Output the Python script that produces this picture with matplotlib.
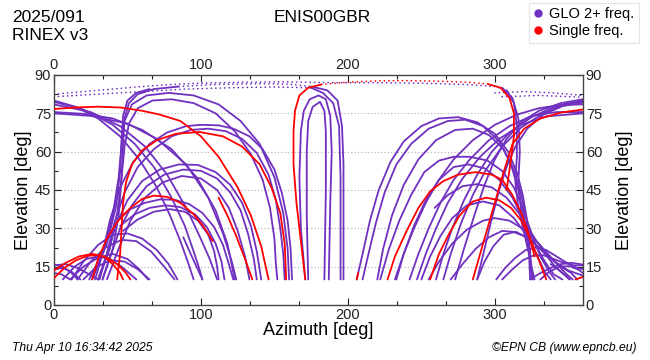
import matplotlib
matplotlib.use("Agg")
import matplotlib.pyplot as plt
from matplotlib.ticker import MultipleLocator
from matplotlib.lines import Line2D

plt.rcParams['font.family'] = ['Liberation Sans', 'DejaVu Sans']

GLO_COLOR = '#7030c0'
SGL_COLOR = '#ff0000'

# satellite tracks, each a list of (azimuth, elevation)
# GLONASS 2+ frequencies, solid parts
glo_tracks = [
    # left side, coming down from the north
    [(0, 80), (15, 77.5), (30, 73), (45, 66), (58, 57), (70, 46), (79, 35), (86, 25), (91, 17), (95, 10)],
    [(0, 79.5), (20, 76.5), (40, 70.5), (55, 63), (68, 54), (80, 42), (89, 31), (95, 21), (99, 14), (101, 10)],
    [(0, 78.5), (25, 75.5), (45, 70), (62, 62), (77, 51), (90, 38), (99, 27), (106, 18), (111, 10)],
    [(0, 75.5), (20, 74.8), (40, 73), (60, 68.5), (80, 61), (97, 50), (110, 37), (118, 24), (123, 10)],
    [(0, 75), (25, 74), (50, 71), (70, 65), (90, 55), (105, 42), (115, 28), (121, 17), (124, 10)],
    # steep risers near az 45
    [(33, 10), (40, 22), (44, 35), (46, 50), (47, 63), (48, 73), (51, 79), (57, 82.5), (68, 84.5), (85, 85.5)],
    [(26, 10), (36, 24), (42, 38), (45, 52), (46, 65), (47, 74), (50, 80), (56, 83), (65, 84.5)],
    [(30, 10), (38, 22), (43, 36), (46, 50), (48, 62), (51, 71), (57, 77), (67, 80), (80, 80.5), (95, 79),
     (110, 75), (123, 68), (134, 59), (142, 49), (147, 38), (150, 26), (151, 16), (152, 10)],
    [(24, 10), (34, 22), (40, 35), (44, 50), (46, 63), (48, 72), (53, 78.5), (63, 82), (78, 83), (95, 82),
     (112, 78.5), (127, 72), (140, 63), (150, 50), (156, 36), (159, 22), (160, 10)],
    # arcs peaking near 70
    [(28, 10), (33, 20), (38, 33), (45, 46), (54, 56), (65, 63), (77, 67.5), (90, 70), (100, 70.5), (112, 70.3),
     (122, 69), (133, 66), (142, 61), (150, 53), (155, 44), (159, 33), (161, 22), (162, 10)],
    [(31, 10), (36, 20), (41, 32), (48, 44), (57, 54), (68, 61), (80, 66), (93, 68.5), (105, 69), (117, 68),
     (128, 65), (138, 59.5), (146, 51), (151, 41), (154, 30), (156, 20), (157, 10)],
    # arcs peaking near 55
    [(30, 10), (36, 20), (42, 31), (50, 41), (60, 48.5), (72, 53), (85, 55), (98, 54.8), (110, 52), (120, 47),
     (128, 40), (134, 31), (138, 21), (141, 10)],
    [(33, 10), (39, 20), (45, 30), (53, 39), (63, 46.5), (75, 51), (88, 53), (100, 52.5), (111, 49.5), (120, 44),
     (127, 37), (132, 28), (136, 18), (138, 10)],
    [(36, 10), (44, 22), (52, 33), (62, 42), (74, 48), (87, 50.5), (100, 49.5), (111, 45), (119, 38), (125, 29),
     (130, 19), (133, 10)],
    # arcs peaking near 40
    [(44, 34), (52, 37.5), (62, 40), (72, 41.3), (82, 41.2), (92, 39.5), (101, 36), (109, 30.5), (115, 23.5),
     (119, 16), (122, 10)],
    [(45, 31), (55, 35.5), (65, 38), (76, 39), (86, 38.3), (96, 35.5), (104, 30.5), (110, 24), (114, 17), (116, 10)],
    [(47, 29), (57, 33.5), (68, 36.5), (79, 37.5), (89, 36.5), (98, 33), (105, 27.5), (109, 21), (111, 15), (112, 10)],
    [(88, 26.5), (93, 20), (97, 15), (101, 10)],
    # low arcs bottom left
    [(12, 10), (20, 17), (30, 23.5), (40, 27.5), (50, 28), (60, 26), (70, 21.5), (78, 16), (84, 10)],
    [(16, 10), (25, 17), (35, 22.5), (46, 25.5), (56, 25), (66, 21), (75, 15), (82, 10)],
    [(11, 10), (20, 15), (30, 18.5), (40, 20), (50, 18), (58, 14), (64, 10)],
    [(20, 10), (28, 14.5), (38, 17.5), (48, 17), (57, 14), (65, 10)],
    [(6, 10), (14, 15), (22, 18), (30, 19), (38, 18), (46, 15), (52, 12), (56, 10)],
    [(0, 15.5), (8, 16), (16, 14.5), (24, 12), (30, 10)],
    [(0, 14), (6, 14.5), (12, 13), (18, 10)],
    [(0, 12.5), (5, 12), (11, 10)],
    [(0, 15.8), (6, 15), (12, 12.5), (16, 10)],
    # loops around the zenith, south side
    [(171, 10), (168, 30), (167, 50), (168, 68), (170, 76), (174, 80.5), (180, 82), (185, 80.5), (188, 74),
     (189, 60), (188, 40), (187, 10)],
    [(173, 10), (172, 35), (172, 60), (173, 72), (176, 77.5), (181, 79.5), (184, 76), (185, 68), (185, 45), (184, 10)],
    [(175, 85.5), (186, 84), (193, 80), (196, 70), (197, 55), (197, 35), (197, 10)],
    [(175, 85), (183, 83), (190, 79), (194, 70), (195, 50), (195, 10)],
    # west side risers
    [(206, 10), (210, 20), (215, 33), (221, 45), (229, 56), (238, 64), (250, 70), (262, 73), (275, 73.5),
     (288, 71.5), (300, 67), (309, 60), (315, 52), (319, 43), (322, 33), (323, 24), (324, 10)],
    [(210, 10), (214, 20), (219, 32), (225, 44), (233, 55), (243, 63), (255, 69), (268, 72), (280, 72.5),
     (292, 70), (303, 64), (311, 55), (316, 45), (320, 34), (322, 24), (324, 19)],
    [(220, 10), (224, 22), (230, 35), (238, 47), (248, 57), (260, 64.5), (273, 68.5), (285, 69), (296, 66.5),
     (306, 61), (313, 53), (318, 43), (322, 32), (324, 21), (325, 10)],
    [(232, 10), (238, 20), (245, 30), (253, 40), (262, 49), (272, 57), (285, 64.5), (300, 70.5), (315, 74.5),
     (330, 77), (345, 78.3), (360, 78.5)],
    [(242, 10), (248, 20), (255, 30), (263, 40), (272, 49), (283, 57), (296, 64.5), (310, 70), (325, 74),
     (342, 75.5), (360, 75.5)],
    [(247, 10), (253, 20), (260, 30), (268, 40), (278, 49.5), (290, 58), (303, 65), (318, 70.5), (335, 73.8),
     (360, 75)],
    [(260, 10), (265, 20), (271, 30), (279, 41), (288, 51), (298, 60), (310, 67.5), (325, 73.5), (340, 77.5),
     (360, 80)],
    [(265, 10), (270, 20), (277, 32), (285, 43), (294, 53), (305, 62), (318, 69.5), (333, 75), (348, 78.8),
     (360, 79.5)],
    [(273, 10), (279, 22), (286, 35), (293, 47), (300, 57), (308, 65), (318, 71.5), (330, 76), (345, 79),
     (360, 80.5)],
    [(288, 10), (293, 22), (298, 34), (303, 45), (308, 54), (314, 62), (322, 69), (333, 74.5), (346, 77.8),
     (360, 79.2)],
    # steep descents in the north-west
    [(308, 84), (313, 79), (315, 70), (315, 58), (314, 48), (316, 38), (320, 28), (324, 18), (326, 10)],
    [(305, 85), (312, 81), (316, 73), (317, 60), (316, 48), (318, 36), (322, 25), (325, 15), (327, 10)],
    # mid and low arcs in the west / north-west
    [(222, 10), (228, 22), (235, 33), (243, 43), (252, 52), (262, 56.5), (272, 58), (283, 58), (295, 56.5),
     (305, 52.5), (313, 46), (319, 38), (325, 28), (331, 19), (337, 13), (341, 10)],
    [(233, 10), (238, 20), (245, 31), (253, 41), (262, 49), (272, 54), (282, 55), (293, 53.5), (303, 49),
     (312, 42), (320, 33), (327, 24), (334, 17), (340, 12), (346, 10)],
    [(259, 38), (268, 43), (278, 46.5), (288, 47.3), (298, 46), (308, 42), (317, 35.5), (325, 28), (333, 21),
     (341, 15), (347, 12), (351, 10)],
    [(250, 10), (256, 19), (263, 27), (271, 34), (281, 39), (292, 40.5), (303, 39), (313, 34), (322, 27),
     (329, 19), (334, 13), (338, 10)],
    [(255, 10), (262, 17), (271, 24), (281, 29.5), (292, 33), (300, 34), (310, 33), (320, 29.5), (330, 24),
     (340, 17.5), (348, 12.5), (353, 10)],
    [(270, 10), (278, 16), (287, 22), (296, 26.5), (305, 29), (315, 28.5), (324, 25.5), (333, 21), (342, 16.5),
     (350, 13.5), (360, 11.5)],
    [(288, 10), (293, 17), (299, 23), (306, 27.5), (313, 28.5), (320, 27), (328, 23.5), (336, 19), (345, 15),
     (352, 12.5), (356, 10)],
    [(301, 10), (307, 14.5), (314, 18.5), (321, 21.5), (328, 22.5), (335, 21.5), (342, 19), (349, 16.5),
     (356, 14.5), (360, 14)],
    [(305, 10), (312, 14), (319, 17.5), (326, 19.3), (333, 19.5), (340, 18), (347, 16.5), (354, 15.5), (360, 15.5)],
    [(324, 10), (331, 12.5), (338, 14.5), (345, 16), (352, 16.5), (358, 16), (360, 15.8)],
    [(331, 10), (337, 13), (344, 15), (351, 15.2), (357, 13.8), (360, 12.5)],
    [(338, 16), (344, 13.5), (349, 11), (351, 10)],
]

# GLONASS near-zenith parts (sparse samples, drawn dotted)
glo_zenith = [
    [(0, 82.5), (20, 83.5), (40, 84.5), (60, 85.5), (80, 86.3), (100, 86.8), (130, 87.2), (160, 87.3),
     (190, 87), (220, 87), (250, 86.8), (280, 86.3), (300, 85.5), (308, 84)],
    [(0, 81.5), (30, 82.5), (60, 83.5), (90, 84.5), (120, 85), (150, 85.3), (175, 85)],
    [(85, 85.5), (110, 86.3), (140, 86.6), (160, 86.4), (175, 85.5)],
    [(300, 83), (320, 83.5), (340, 83), (360, 82)],
    [(305, 81.5), (330, 82), (360, 81.3)],
]

# single frequency tracks, solid parts
sgl_tracks = [
    [(0, 76.7), (15, 77.3), (30, 77.6), (45, 77.3), (60, 76), (72, 74.5), (86, 72), (100, 66), (112, 58),
     (125, 46), (134, 35), (141, 23), (146, 10)],
    [(285, 10), (290, 20), (295, 30), (300, 40), (306, 52), (312, 63), (320, 69), (331, 73), (345, 75.3),
     (360, 76.5)],
    [(43, 10), (45, 20), (46, 30), (47, 40), (49, 48), (53, 55), (60, 60.5), (70, 64.5), (83, 67), (99, 67.7),
     (115, 66), (128, 62), (140, 55), (148, 46), (154, 36), (157, 24), (158, 10)],
    [(26, 10), (30, 18), (36, 26), (43, 32.5), (52, 38), (60, 41.5), (68, 42.8), (77, 42.3), (86, 40),
     (95, 35.5), (102, 30.5), (108, 25)],
    [(112, 42), (118, 35), (124, 27), (130, 18), (135, 10)],
    [(0, 10.5), (7, 14.5), (15, 17.5), (23, 19.3), (30, 19.5), (37, 18.3), (44, 15.5), (49, 12.5), (52, 10)],
    [(0, 13.5), (8, 16.5), (17, 19), (26, 20), (34, 19), (40, 16), (45, 12.5), (47, 10)],
    [(171, 10), (168, 25), (165, 40), (163, 55), (163, 68), (164, 76), (167, 82), (173, 85), (182, 86.3)],
    [(295, 86.5), (304, 85), (310, 81), (313, 75), (313, 66), (311, 57), (309, 49), (308, 45)],
    [(227, 10), (232, 19), (240, 29), (248, 38), (256, 44.5), (265, 48.5), (275, 51), (287, 52), (298, 51),
     (305, 49), (312, 43), (318, 36), (323, 28), (327, 19)],
    [(256, 10), (262, 20), (269, 28), (276, 35), (285, 40.5), (294, 42), (303, 41), (311, 38), (318, 33),
     (324, 26), (329, 19), (333, 13), (335, 10)],
    [(206, 10), (207, 12.5)],
    [(355, 10), (360, 11)],
]

sgl_zenith = [
    [(182, 86.3), (200, 87.2), (220, 87.7), (240, 87.8), (260, 87.6), (280, 87.2), (295, 86.5)],
]

x_ticks = [0, 100, 200, 300]
y_ticks = [0, 15, 30, 45, 60, 75, 90]

fig = plt.figure(figsize=(6.5, 3.6), dpi=100)
ax = fig.add_axes([54 / 650, 55 / 360, 529 / 650, 230 / 360])

for trk in glo_tracks:
    az, el = zip(*trk)
    ax.plot(az, el, color=GLO_COLOR, lw=1.3, solid_capstyle='round', solid_joinstyle='round', zorder=2)
for trk in glo_zenith:
    az, el = zip(*trk)
    ax.plot(az, el, color=GLO_COLOR, lw=1.2, linestyle=(0, (0.1, 2.6)),
            dash_capstyle='round', zorder=2)
for trk in sgl_tracks:
    az, el = zip(*trk)
    ax.plot(az, el, color=SGL_COLOR, lw=1.3, solid_capstyle='round', solid_joinstyle='round', zorder=3)
for trk in sgl_zenith:
    az, el = zip(*trk)
    ax.plot(az, el, color=SGL_COLOR, lw=1.2, linestyle=(0, (0.1, 2.6)),
            dash_capstyle='round', zorder=3)

ax.set_xlim(0, 360)
ax.set_ylim(0, 90)
ax.set_xticks(x_ticks)
ax.set_yticks(y_ticks)
ax.xaxis.set_minor_locator(MultipleLocator(100 / 3))
ax.yaxis.set_minor_locator(MultipleLocator(7.5))
for y in y_ticks[1:-1]:
    ax.axhline(y, color='#b0b0b0', lw=0.8, linestyle=(0, (1, 2)), zorder=1)

ax.tick_params(which='both', direction='in', top=True, right=True,
               labeltop=True, labelright=True, labelsize=10.5, colors='#222222', pad=2)
ax.tick_params(which='major', length=5, width=0.8)
ax.tick_params(which='minor', length=3, width=0.8)
for sp in ax.spines.values():
    sp.set_color('#444444')
    sp.set_linewidth(1.0)

ax.set_xlabel('Azimuth [deg]', fontsize=13, labelpad=0)
ax.set_ylabel('Elevation [deg]', fontsize=13, labelpad=2)
ax.text(1.079, 0.5, 'Elevation [deg]', transform=ax.transAxes, rotation=90,
        ha='center', va='center', fontsize=13)

fig.text(12 / 650, 1 - 18 / 360, '2025/091', fontsize=12.5, ha='left', va='center')
fig.text(12 / 650, 1 - 35 / 360, 'RINEX v3', fontsize=12.5, ha='left', va='center')
fig.text(322 / 650, 1 - 18 / 360, 'ENIS00GBR', fontsize=12.5, ha='center', va='center')

handles = [Line2D([], [], marker='o', ls='none', color=GLO_COLOR, markersize=5),
           Line2D([], [], marker='o', ls='none', color=SGL_COLOR, markersize=5)]
leg = fig.legend(handles, ['GLO 2+ freq.', 'Single freq.'], loc='upper right',
                 bbox_to_anchor=(639 / 650, 1 - 3 / 360), fontsize=10.5, frameon=True,
                 fancybox=False, handlelength=0.6, handletextpad=0.5, borderpad=0.3,
                 labelspacing=0.2, borderaxespad=0)
leg.get_frame().set_edgecolor('#dddddd')
leg.get_frame().set_linewidth(0.8)

fig.text(12 / 650, 1 - 348 / 360, 'Thu Apr 10 16:34:42 2025', fontsize=8.7,
         style='italic', ha='left', va='center')
fig.text(637 / 650, 1 - 348 / 360, '\u00a9EPN CB (www.epncb.eu)', fontsize=8.7,
         style='italic', ha='right', va='center')

fig.savefig('out.png', dpi=100)
